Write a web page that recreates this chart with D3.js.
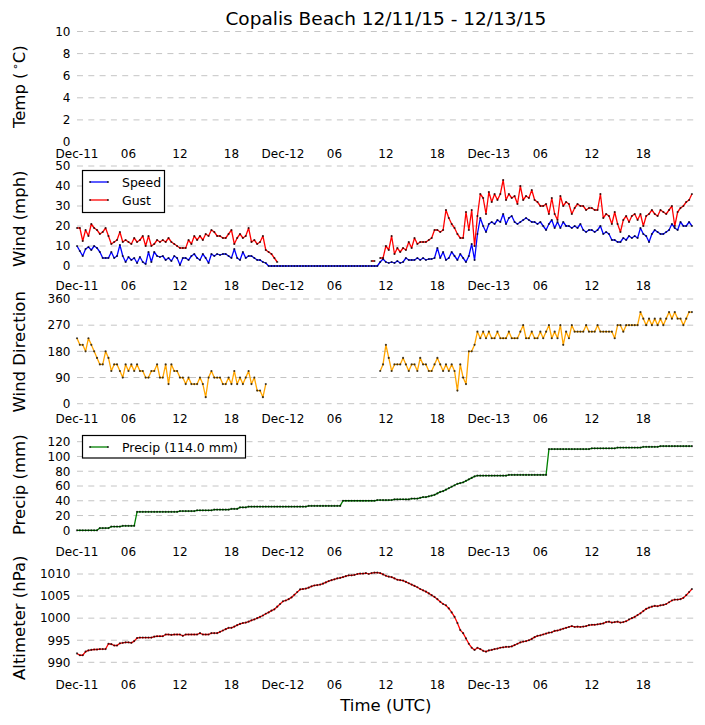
<!DOCTYPE html>
<html>
<head>
<meta charset="utf-8">
<script src="https://cdn.jsdelivr.net/npm/d3@7"></script>
<style>
  body { margin: 0; background: #fff; }
  text { font-family: "DejaVu Sans", sans-serif; }
</style>
</head>
<body>
<div id="chart"></div>
<script>
// station obs, one reading every 20 min starting Dec-11 00:00 UTC
const title = "Copalis Beach 12/11/15 - 12/13/15"
const startTime = Date.UTC(2015, 11, 11, 0, 0)
const stepMinutes = 20

const xTickHours = [0, 6, 12, 18, 24, 30, 36, 42, 48, 54, 60, 66]
const xTickLabels = ["Dec-11", "06", "12", "18", "Dec-12", "06", "12", "18", "Dec-13", "06", "12", "18"]

const tempTicks = [0, 2, 4, 6, 8, 10]
const windTicks = [0, 10, 20, 30, 40, 50]
const dirTicks = [0, 90, 180, 270, 360]
const precipTicks = [0, 20, 40, 60, 80, 100, 120]
const altTicks = [990, 995, 1000, 1005, 1010]

const windSpeed = [
  10,7.5,5,8.5,9.5,8,10,9,7,4, 4,4,7,4,5,10.5,5,2,4.5,3, 4,1.5,4.5,2,1,7,2,7,5,4.5,
  5,3,4,2.5,5,4,0.5,4,4,3, 5,6,4,3,6,4,1.5,6,5,6, 5.5,6,6,5,4,8.5,4,3,7,4, 5,5,4,3,3,2,1.5,
  0,0,0,0,0,0,0,0,0,0, 0,0,0,0,0,0,0,0,0,0, 0,0,0,0,0,0,0,0,0,0, 0,0,0,0,0,0,0,0,0,
  2,3.5,2,1.5,2,1.5,2.5,1.5,2,4, 3,3,3,4,3,4,3,3.5,3.5,4, 9,4,7,3,4,7,5,3,6,4,
  2,5,11,3,16,24,20,17,21,22, 21,23,22,26,21,24,25,22,21,22, 23,24,23,22,22,21,22,20,18,21,
  23,19,22,19,22,20,20,19,20,19, 21,18,17,18,18,17,18,20,16,17, 16,13,13,12,12,14,13,15,14,15,
  14,19,16,15,12,16,18,17,16,16, 17,18,21,19,18,22,20,20,22,20
]

const windGust = [
  19,19,12.5,18,15,21,19,18,16,17, 19,15,11,12,13,17,12,13,12,11, 14,12,13,15,10,15,10,11,13,12,
  13,12,14,12,11,10,9,9,9,13, 11,15,13,15,13,16,15,18,17,15, 15,14,14,16,18,11,14,16,14,15,
  19,12,13,11,12,15,8,7,6,4, 2,
  null,null,null,null,null,null,null,null,null,null, null,null,null,null,null,null,null,null,null,null,
  null,null,null,null,null,null,null,null,null,null, null,null,
  2.5,2.5,null,
  4,4,10,8,15,6,9,7,9,8, 12,9,14,11,12,12,12,13,14,18, 18,17,18,28,24,21,19,16,14,14,
  27,18,28,10,25,36,34,26,37,32, 36,33,36,43,33,36,34,35,31,40, 33,35,34,38,33,32,30,30,31,26,
  34,26,23,35,30,32,31,26,29,31, 30,30,28,29,29,28,28,36,24,26, 25,21,27,21,17,23,25,22,25,26,
  23,26,20,25,26,28,26,25,28,27, 26,28,30,20,27,29,30,32,33,36
]

const windDir = [
  225,202.5,202.5,180,225,202.5,180,157.5,135,135, 180,157.5,112.5,135,135,112.5,90,135,112.5,135,
  112.5,135,112.5,112.5,90,90,112.5,112.5,135,90, 90,135,67.5,135,112.5,112.5,90,90,67.5,90,
  67.5,67.5,67.5,90,67.5,22.5,90,112.5,90,90, 90,67.5,67.5,90,67.5,112.5,67.5,90,67.5,90,
  112.5,67.5,90,45,45,22.5,67.5,
  null,null,null,null,null,null,null,null,null,null, null,null,null,null,null,null,null,null,null,null,
  null,null,null,null,null,null,null,null,null,null, null,null,null,null,null,null,null,null,null,
  112.5,135,202.5,157.5,112.5,135,135,135,157.5,135, 112.5,135,135,112.5,157.5,135,135,112.5,112.5,135,
  157.5,135,112.5,135,112.5,135,112.5,45,135,90, 67.5,180,180,202.5,247.5,225,247.5,225,247.5,225,
  225,247.5,225,225,225,247.5,225,225,225,247.5, 270,225,225,247.5,225,225,247.5,225,247.5,270,
  225,247.5,225,270,202.5,247.5,225,270,247.5,247.5, 247.5,247.5,270,247.5,247.5,247.5,270,247.5,247.5,247.5,
  247.5,247.5,225,270,270,247.5,270,270,270,270, 270,315,292.5,270,292.5,270,292.5,270,292.5,270,
  292.5,315,292.5,315,292.5,292.5,270,292.5,315,315
]

const precip = [
  0,0,0,0,0,0,0,0, 3,3,3,3, 5,5,5,5, 6,6,6,6,6,
  25,25,25,25,25,25,25,25,25,25,25,25,25,25,25,
  26,26,26,26,26,26, 27,27,27,27,27,27, 28,28,28,28,28,28, 29,29,29, 31,31,31,
  32,32,32,32,32,32,32,32,32,32,32,32,32,32,32,32,32,32,32,32,32,
  33,33,33,33,33,33,33,33,33,33,33,33,
  40,40,40,40,40,40,40,40,40,40,40,40, 41,41,41,41,41,41, 42,42,42,42,42,42, 43,43,43,
  44,45,45,46,47,48,50,52,53,55,57,59,61,63,64,65,67,69,71,73,
  74,74,74,74,74,74,74,74,74,74,74,
  75,75,75,75,75,75,75,75,75,75,75,75,75,75,
  110,110,110,110,110,110,110,110,110,110,110,110,110,110,110,
  111,111,111,111,111,111,111,111,111, 112,112,112,112,112,112,112,112,112,
  113,113,113,113,113,113, 114,114,114,114,114,114,114,114,114,114,114,114
]

const altimeter = [
  992.0,991.6,991.6, 992.4,992.7,992.8, 992.9,992.9,993.0, 993.0,993.0,994.2, 994.1,993.8,993.8,
  994.3,994.4,994.5, 994.5,994.4,994.8, 995.5,995.6,995.6, 995.6,995.6,995.6, 995.8,995.9,995.9,
  995.9,996.3,996.3, 996.2,996.3,996.3, 996.3,996.0,996.3, 996.3,996.3,996.3, 996.3,996.6,996.3,
  996.3,996.3,996.6, 996.6,996.6,996.9, 997.2,997.5,997.8, 997.8,998.1,998.4, 998.7,998.9,999.0,
  999.2,999.5,999.7, 1000.0,1000.3,1000.6, 1001.0,1001.3,1001.7, 1002.0,1002.6,1003.2,
  1003.8,1004.0,1004.3, 1004.7,1005.3,1005.9, 1006.5,1006.6,1006.7, 1006.9,1007.2,1007.4,
  1007.5,1007.6,1007.8, 1008.1,1008.4,1008.6, 1008.8,1009.0,1009.1, 1009.3,1009.5,1009.7,
  1009.7,1009.8,1010.0, 1010.1,1010.1,1010.2, 1010.0,1010.2,1010.3, 1010.3,1010.2,1009.9,
  1009.6,1009.4,1009.3, 1009.0,1008.7,1008.6, 1008.5,1008.2,1007.9, 1007.6,1007.3,1007.0,
  1006.6,1006.3,1006.0, 1005.6,1005.2,1004.8, 1004.3,1003.7,1003.2, 1002.9,1002.2,1001.3,
  1000.3,998.9,997.3, 996.6,995.4,994.2, 993.3,992.8,993.3, 993.0,992.6,992.4,
  992.7,992.8,993.0, 993.1,993.3,993.4, 993.5,993.5,993.6, 993.9,994.2,994.5,
  994.7,994.8,995.0, 995.3,995.7,996.0, 996.1,996.3,996.5, 996.7,996.8,997.1,
  997.2,997.4,997.6, 997.8,998.0,998.2, 998.0,998.1,998.0, 998.1,998.2,998.4,
  998.5,998.5,998.6, 998.7,998.8,999.1, 999.2,999.0,999.1, 999.2,999.0,999.1,
  999.3,999.7,1000.0, 1000.3,1000.7,1001.1, 1001.6,1002.1,1002.4, 1002.6,1002.8,1002.7,
  1002.9,1003.0,1003.2, 1003.6,1004.0,1004.2, 1004.2,1004.3,1004.6, 1005.2,1005.9,1006.6
]

const width = 705
const height = 725
const plotLeft = 77
const plotRight = 694.8
const hour = 3600 * 1000

const x = d3.scaleUtc()
    .domain([new Date(startTime), new Date(startTime + 72 * hour)])
    .range([plotLeft, plotRight])

const timeOf = i => new Date(startTime + i * stepMinutes * 60 * 1000)

const svg = d3.select("#chart")
    .append("svg")
    .attr("width", width)
    .attr("height", height)
    .attr("viewBox", [0, 0, width, height])

svg.append("rect")
    .attr("width", width)
    .attr("height", height)
    .attr("fill", "#fff")

const panels = [
  {label: "Temp", top: 31.5, bottom: 142,
   y: d3.scaleLinear().domain([0, 10]).range([142, 31.5]),
   ticks: tempTicks, skipGrid: 0, series: []},
  {label: "Wind (mph)", top: 163.5, bottom: 274,
   y: d3.scaleLinear().domain([0, 50]).range([266, 166]),
   ticks: windTicks,
   series: [{name: "Speed", values: windSpeed, color: "#0000ff"},
            {name: "Gust", values: windGust, color: "#ff0000"}],
   legend: {x: 82.5, y: 170.5, w: 82, h: 42}},
  {label: "Wind Direction", top: 296.5, bottom: 407,
   y: d3.scaleLinear().domain([0, 360]).range([403.7, 299]),
   ticks: dirTicks,
   series: [{name: "Direction", values: windDir, color: "#ffa500"}]},
  {label: "Precip (mm)", top: 429.5, bottom: 540,
   y: d3.scaleLinear().domain([0, 120]).range([530.3, 441.7]),
   ticks: precipTicks,
   series: [{name: `Precip (${d3.max(precip).toFixed(1)} mm)`, values: precip, color: "#008000"}],
   legend: {x: 82.5, y: 435.5, w: 163, h: 22.5}},
  {label: "Altimeter (hPa)", top: 562.5, bottom: 673,
   y: d3.scaleLinear().domain([990, 1010]).range([662.3, 574]),
   ticks: altTicks,
   series: [{name: "Altimeter", values: altimeter, color: "#ff0000"}]}
]

svg.append("text")
    .attr("x", (plotLeft + plotRight) / 2)
    .attr("y", 24.5)
    .attr("text-anchor", "middle")
    .style("font-size", "18.5px")
    .text(title)

panels.forEach((p, pi) => {
  const g = svg.append("g")

  // dashed horizontal grid
  g.selectAll("line.grid")
      .data(p.ticks.filter(t => t !== p.skipGrid))
      .enter()
      .append("line")
      .attr("x1", plotLeft)
      .attr("x2", plotRight)
      .attr("y1", d => p.y(d))
      .attr("y2", d => p.y(d))
      .attr("stroke", "#c4c4c4")
      .attr("stroke-width", 1)
      .attr("stroke-dasharray", "6,5.3")

  g.selectAll("text.ytick")
      .data(p.ticks)
      .enter()
      .append("text")
      .attr("x", 70.5)
      .attr("y", d => p.y(d) + 4.3)
      .attr("text-anchor", "end")
      .style("font-size", "12px")
      .text(d => d)

  g.selectAll("text.xtick")
      .data(xTickHours)
      .enter()
      .append("text")
      .attr("x", d => x(new Date(startTime + d * hour)))
      .attr("y", p.bottom + 16)
      .attr("text-anchor", "middle")
      .style("font-size", "12px")
      .text((d, i) => xTickLabels[i])

  const ylab = g.append("text")
      .attr("transform", `translate(25,${(p.top + p.bottom) / 2}) rotate(-90)`)
      .attr("text-anchor", "middle")
      .style("font-size", "16.5px")
  if (pi === 0) {
    ylab.append("tspan").text("Temp (")
    ylab.append("tspan").attr("baseline-shift", "super").style("font-size", "11px").text("\u2009\u2218")
    ylab.append("tspan").text("C)")
  } else {
    ylab.text(p.label)
  }

  p.series.forEach(s => {
    const pts = s.values.map((v, i) => ({t: timeOf(i), v}))
    const line = d3.line()
        .defined(d => d.v !== null)
        .x(d => x(d.t))
        .y(d => p.y(d.v))
    g.append("path")
        .datum(pts)
        .attr("fill", "none")
        .attr("stroke", s.color)
        .attr("stroke-width", 1.3)
        .attr("stroke-linejoin", "round")
        .attr("d", line)
    g.append("g")
        .selectAll("circle")
        .data(pts.filter(d => d.v !== null))
        .enter()
        .append("circle")
        .attr("cx", d => x(d.t))
        .attr("cy", d => p.y(d.v))
        .attr("r", 1.1)
        .attr("fill", "#000")
        .attr("fill-opacity", 0.72)
  })

  if (p.legend) {
    const L = p.legend
    const lg = g.append("g")
    lg.append("rect")
        .attr("x", L.x).attr("y", L.y)
        .attr("width", L.w).attr("height", L.h)
        .attr("fill", "#fff")
        .attr("stroke", "#000")
        .attr("stroke-width", 1.2)
    p.series.forEach((s, i) => {
      const ly = L.y + 11.5 + i * 18
      lg.append("line")
          .attr("x1", 90).attr("x2", 108)
          .attr("y1", ly).attr("y2", ly)
          .attr("stroke", s.color)
          .attr("stroke-width", 1.3)
      lg.selectAll(null)
          .data([90, 108])
          .enter()
          .append("circle")
          .attr("cx", d => d).attr("cy", ly).attr("r", 1.1)
          .attr("fill", "#000").attr("fill-opacity", 0.72)
      lg.append("text")
          .attr("x", 122)
          .attr("y", ly + 4.5)
          .style("font-size", "12.5px")
          .text(s.name)
    })
  }
})

svg.append("text")
    .attr("x", (plotLeft + plotRight) / 2)
    .attr("y", 711)
    .attr("text-anchor", "middle")
    .style("font-size", "16.5px")
    .text("Time (UTC)")
</script>
</body>
</html>
